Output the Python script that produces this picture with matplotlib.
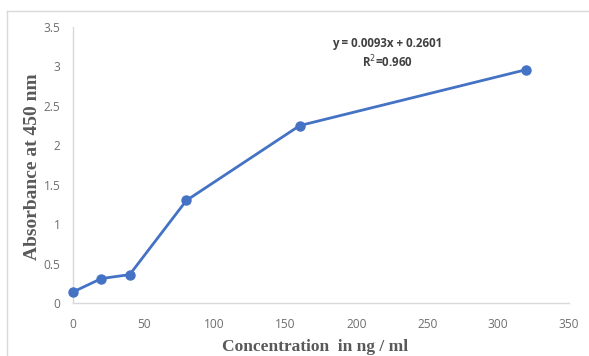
import matplotlib
matplotlib.use("Agg")
import matplotlib.pyplot as plt
from matplotlib.lines import Line2D

conc = [0, 20, 40, 80, 160, 320]
absorb = [0.14, 0.31, 0.36, 1.30, 2.25, 2.96]
xticks = [0, 50, 100, 150, 200, 250, 300, 350]
yticks = [0, 0.5, 1, 1.5, 2, 2.5, 3, 3.5]
ytick_labels = ["0", "0.5", "1", "1.5", "2", "2.5", "3", "3.5"]

W, H = 589, 356
fig = plt.figure(figsize=(W / 100, H / 100), dpi=100)
ax = fig.add_axes([73 / W, (H - 303) / H, (569 - 73) / W, (303 - 27) / H])

blue = "#4472C4"
ax.plot(conc, absorb, color=blue, lw=2.0, marker="o", ms=6.5, zorder=3, clip_on=False)

ax.set_xlim(0, 350)
ax.set_ylim(0, 3.5)
ax.set_xticks(xticks)
ax.set_yticks(yticks)
ax.set_yticklabels(ytick_labels)

for s in ["top", "right"]:
    ax.spines[s].set_visible(False)
for s in ["left", "bottom"]:
    ax.spines[s].set_color("#D9D9D9")
    ax.spines[s].set_linewidth(1.0)
ax.tick_params(length=0, labelsize=8.6, colors="#6E6E6E")
ax.tick_params(axis="x", pad=11)
ax.tick_params(axis="y", pad=9)
for lab in ax.get_xticklabels() + ax.get_yticklabels():
    lab.set_family("Open Sans")

fig.text(315 / W, 1 - 347 / H, "Concentration  in ng / ml", ha="center", va="center",
         family="Liberation Serif", fontweight="bold", fontsize=12.5, color="#595959")
fig.text(33 / W, 1 - 167 / H, "Absorbance at 450 nm", ha="center", va="center",
         rotation=90, family="Liberation Serif", fontweight="bold", fontsize=14, color="#595959")

fig.text(387 / W, 1 - 44 / H, "y = 0.0093x + 0.2601", ha="center", va="center",
         family="Open Sans", fontweight="bold", fontsize=8.3, color="#404040")
fig.text(387 / W, 1 - 62 / H, "R$^2$=0.960", ha="center", va="center",
         family="Open Sans", fontweight="bold", fontsize=8.3, color="#404040")

# outer chart frame (top & left visible)
fig.add_artist(Line2D([7 / W, 1], [1 - 11 / H, 1 - 11 / H], color="#D9D9D9", lw=1.0, transform=fig.transFigure))
fig.add_artist(Line2D([7 / W, 7 / W], [0, 1 - 11 / H], color="#D9D9D9", lw=1.0, transform=fig.transFigure))

fig.savefig("out.png", dpi=100)
